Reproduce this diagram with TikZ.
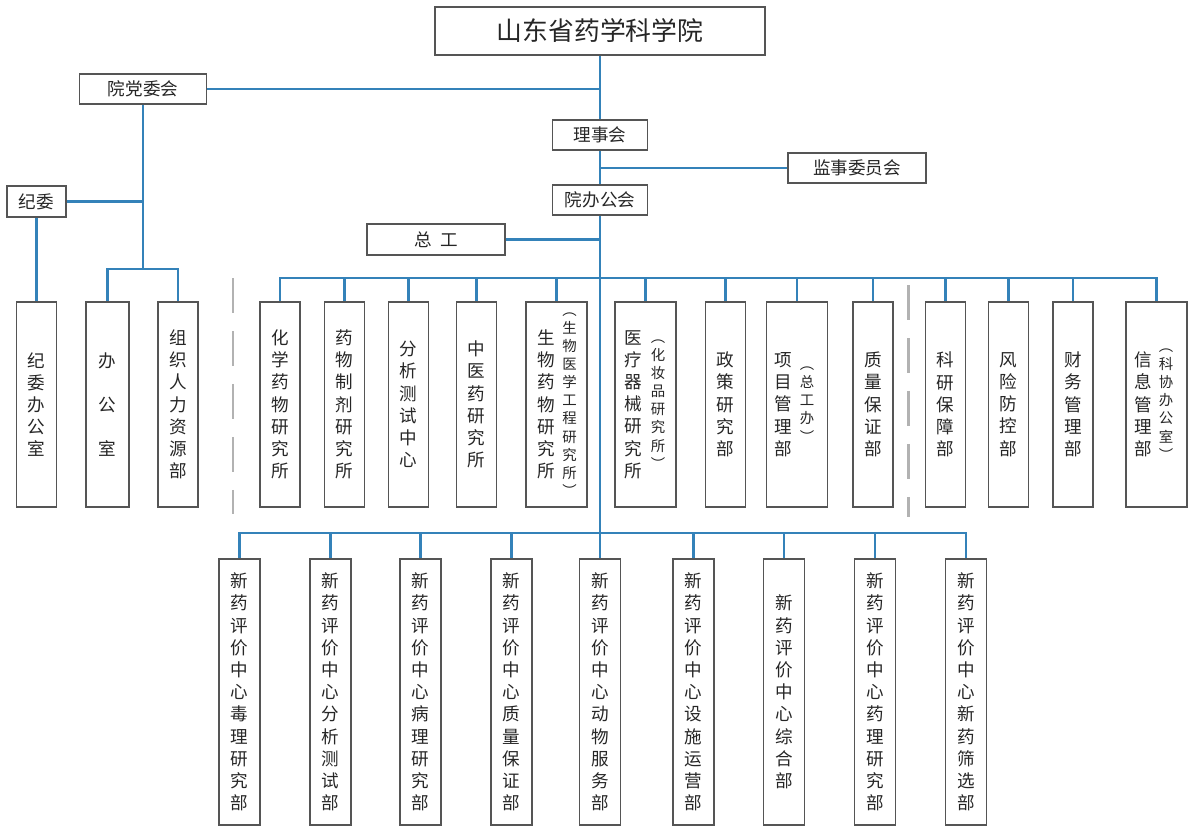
\documentclass[tikz,border=0pt]{standalone}
\usepackage{fontspec}
\newfontfamily\cjk{Noto Sans CJK SC}
\usepackage{tikz}
\usetikzlibrary{positioning}
\definecolor{linkblue}{RGB}{52,130,185}
\definecolor{boxgray}{RGB}{85,85,85}
\definecolor{sepgray}{RGB}{178,178,178}
\tikzset{%
  topblock/.style={rectangle, draw=boxgray, line width=0.9pt, fill=white, text=black!85, minimum width=6.6cm, minimum height=0.96cm, font=\cjk\fontsize{14.7}{16}\selectfont},
  block/.style={rectangle, draw=boxgray, line width=0.9pt, fill=white, text=black!85, minimum height=0.6cm, inner sep=0pt, font=\cjk\fontsize{10}{12}\selectfont},
  vblock/.style={rectangle, draw=boxgray, line width=0.9pt, fill=white, text=black!85, minimum width=0.8cm, minimum height=4.1cm, inner sep=0pt, align=center, font=\cjk\fontsize{10}{12.64}\selectfont},
  wideblock/.style={vblock, minimum width=1.22cm},
  lowblock/.style={vblock, minimum width=0.82cm, minimum height=5.32cm},
  maintext/.style={inner sep=0pt, align=center, text=black!85, font=\cjk\fontsize{10}{12.64}\selectfont},
  subtext/.style={inner sep=0pt, align=center, text=black!85, font=\cjk\fontsize{8.2}{10.3}\selectfont},
  line/.style={draw=linkblue, line width=1.25pt},
  sepline/.style={draw=sepgray, line width=1.7pt, dash pattern=on 0.7cm off 0.36cm}}

\begin{document}
\begin{tikzpicture}[x=0.02cm, y=-0.02cm]
    \useasboundingbox (0,0) rectangle (1200,833);
    % Top: academy, party committee, board and offices
    \node (academy) [topblock] at (600,31) {山东省药学科学院};
    \node (party) [block, minimum width=2.54cm] at (143,89) {院党委会};
    \node (board) [block, minimum width=1.9cm] at (600,135) {理事会};
    \node (supervisors) [block, minimum width=2.76cm] at (857,168) {监事委员会};
    \node (office) [block, minimum width=1.9cm] at (600,200) {院办公会};
    \node (chiefeng) [block, minimum width=2.76cm, minimum height=0.62cm] at (436,239.5) {总\hspace{0.5em}工};
    \node (discipline) [block, minimum width=1.18cm, minimum height=0.62cm] at (36.5,201.5) {纪委};
    % Middle row: party offices, institutes and departments
    \node (jwoffice) [vblock] at (36.5,404.5) {纪\\委\\办\\公\\室};
    \node (admin) [vblock, minimum width=0.86cm] at (107.5,404.5) {办\\[12.6pt]公\\[12.6pt]室};
    \node (hr) [vblock] at (178,404.5) {组\\织\\人\\力\\资\\源\\部};
    \node (chem) [vblock] at (280,404.5) {化\\学\\药\\物\\研\\究\\所};
    \node (pharm) [vblock] at (344.5,404.5) {药\\物\\制\\剂\\研\\究\\所};
    \node (analysis) [vblock] at (408.5,404.5) {分\\析\\测\\试\\中\\心};
    \node (tcm) [vblock] at (476.5,404.5) {中\\医\\药\\研\\究\\所};
    \node (bio) [wideblock] at (556.5,404.5) {};
    \node (biotext) [maintext] at ([xshift=-0.2cm]bio.center) {生\\物\\药\\物\\研\\究\\所};
    \node (biosub) [subtext] at ([xshift=0.26cm]bio.center) {︵\\生\\物\\医\\学\\工\\程\\研\\究\\所\\︶};
    \node (device) [wideblock] at (645.5,404.5) {};
    \node (devicetext) [maintext] at ([xshift=-0.25cm]device.center) {医\\疗\\器\\械\\研\\究\\所};
    \node (devicesub) [subtext] at ([xshift=0.25cm]device.center) {︵\\化\\妆\\品\\研\\究\\所\\︶};
    \node (policy) [vblock] at (725.5,404.5) {政\\策\\研\\究\\部};
    \node (project) [wideblock] at (797,404.5) {};
    \node (projecttext) [maintext] at ([xshift=-0.28cm]project.center) {项\\目\\管\\理\\部};
    \node (projectsub) [subtext] at ([xshift=0.2cm]project.center) {︵\\总\\工\\办\\︶};
    \node (quality) [vblock] at (873,404.5) {质\\量\\保\\证\\部};
    \node (support) [vblock] at (945.5,404.5) {科\\研\\保\\障\\部};
    \node (risk) [vblock] at (1008.5,404.5) {风\\险\\防\\控\\部};
    \node (finance) [vblock] at (1073,404.5) {财\\务\\管\\理\\部};
    \node (info) [wideblock] at (1156.5,404.5) {};
    \node (infotext) [maintext] at ([xshift=-0.27cm]info.center) {信\\息\\管\\理\\部};
    \node (infosub) [subtext] at ([xshift=0.19cm]info.center) {︵\\科\\协\\办\\公\\室\\︶};
    % Bottom row: drug evaluation centre
    \node (tox) [lowblock] at (239.5,692) {新\\药\\评\\价\\中\\心\\毒\\理\\研\\究\\部};
    \node (ana) [lowblock] at (330.5,692) {新\\药\\评\\价\\中\\心\\分\\析\\测\\试\\部};
    \node (path) [lowblock] at (420.5,692) {新\\药\\评\\价\\中\\心\\病\\理\\研\\究\\部};
    \node (qa) [lowblock] at (511.5,692) {新\\药\\评\\价\\中\\心\\质\\量\\保\\证\\部};
    \node (animal) [lowblock] at (600,692) {新\\药\\评\\价\\中\\心\\动\\物\\服\\务\\部};
    \node (facility) [lowblock] at (693.5,692) {新\\药\\评\\价\\中\\心\\设\\施\\运\\营\\部};
    \node (general) [lowblock] at (784,692) {新\\药\\评\\价\\中\\心\\综\\合\\部};
    \node (pharmacology) [lowblock] at (875,692) {新\\药\\评\\价\\中\\心\\药\\理\\研\\究\\部};
    \node (screen) [lowblock] at (966,692) {新\\药\\评\\价\\中\\心\\新\\药\\筛\\选\\部};
    % Separators
    \draw[sepline] (233,278) -- (233,514);
    \draw[sepline] (908,285) -- (908,517);
    % Lines
    \coordinate (busA) at (600,278);
    \coordinate (busB) at (600,533);
    \coordinate (busC) at (143,269);
    \draw[line] (academy) -- (board);
    \draw[line] (party.east) -- (party.east -| academy.south);
    \draw[line] (board) -- (office);
    \draw[line] (supervisors.west) -- (supervisors.west -| board.south);
    \draw[line] (office) -- (animal);
    \draw[line] (chiefeng.east) -- (chiefeng.east -| office.south);
    \draw[line] (party) -- (busC);
    \draw[line] (admin.north) |- (busC) -| (hr.north);
    \draw[line] (discipline.east) -- (discipline.east -| party.south);
    \draw[line] (discipline) -- (jwoffice);
    \draw[line] (chem.north) |- (busA) -| (info.north);
    \foreach \n in {pharm, analysis, tcm, bio, device, policy, project, quality, support, risk, finance}
      \draw[line] (\n.north) -- (\n.north |- busA);
    \draw[line] (tox.north) |- (busB) -| (screen.north);
    \foreach \n in {ana, path, qa, facility, general, pharmacology}
      \draw[line] (\n.north) -- (\n.north |- busB);
\end{tikzpicture}
\end{document}
